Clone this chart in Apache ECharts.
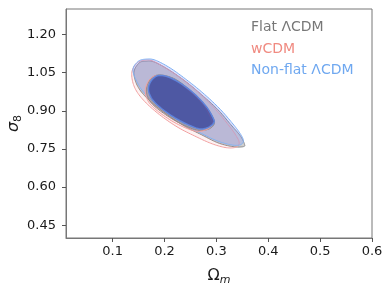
<!DOCTYPE html>
<html><head><meta charset="utf-8">
<script src="https://cdn.jsdelivr.net/npm/echarts@6/dist/echarts.min.js"></script>
<style>html,body{margin:0;padding:0;background:#fff}#c{width:390px;height:290px}</style>
</head><body><div id="c"></div>
<script>
// Tick labels
var xTicks = [0.1, 0.2, 0.3, 0.4, 0.5, 0.6];
var yTicks = [0.45, 0.60, 0.75, 0.90, 1.05, 1.20];
var modelNames = ['Flat ΛCDM', 'wCDM', 'Non-flat ΛCDM'];

// Contours: [Omega_m, sigma_8]
var flatOuter = [[0.141,1.052],[0.151,1.088],[0.164,1.095],[0.180,1.092],[0.209,1.060],[0.242,1.013],[0.272,0.962],[0.303,0.904],[0.328,0.845],[0.346,0.802],[0.354,0.770],[0.352,0.759],[0.332,0.759],[0.303,0.774],[0.271,0.806],[0.234,0.845],[0.195,0.900],[0.164,0.954],[0.147,1.001]];
var wOuter = [[0.137,1.052],[0.147,1.088],[0.162,1.099],[0.178,1.095],[0.207,1.062],[0.240,1.015],[0.271,0.962],[0.299,0.904],[0.323,0.845],[0.338,0.802],[0.344,0.774],[0.338,0.757],[0.319,0.755],[0.292,0.770],[0.261,0.798],[0.224,0.837],[0.187,0.890],[0.157,0.947],[0.141,0.998]];
var nfOuter = [[0.139,1.060],[0.149,1.094],[0.164,1.103],[0.182,1.099],[0.211,1.068],[0.243,1.021],[0.274,0.970],[0.305,0.911],[0.330,0.853],[0.346,0.810],[0.352,0.782],[0.346,0.766],[0.328,0.766],[0.301,0.782],[0.271,0.811],[0.234,0.851],[0.197,0.904],[0.166,0.958],[0.149,1.005]];
var flatInner = [[0.165,0.986],[0.174,1.027],[0.191,1.041],[0.220,1.025],[0.251,0.978],[0.276,0.927],[0.292,0.880],[0.296,0.849],[0.284,0.827],[0.261,0.825],[0.224,0.857],[0.189,0.904],[0.170,0.943]];
var wInner = [[0.163,0.984],[0.172,1.025],[0.189,1.039],[0.218,1.023],[0.249,0.976],[0.274,0.925],[0.288,0.878],[0.292,0.847],[0.280,0.825],[0.257,0.821],[0.220,0.853],[0.186,0.900],[0.168,0.939]];
var nfInner = [[0.169,0.990],[0.178,1.027],[0.194,1.039],[0.220,1.021],[0.252,0.976],[0.278,0.923],[0.292,0.878],[0.295,0.853],[0.282,0.833],[0.263,0.831],[0.227,0.864],[0.194,0.909],[0.175,0.949]];

var contours = [
  {d: flatOuter, fill: 'rgba(128,128,128,0.38)', stroke: '#8a8a8a', w: 1},
  {d: wOuter,    fill: 'rgba(240,128,128,0.10)', stroke: '#f2a0a0', w: 1},
  {d: nfOuter,   fill: 'rgba(115,140,255,0.26)', stroke: '#7fb0f2', w: 1},
  {d: flatInner, fill: 'rgba(128,128,128,0.40)', stroke: '#8a8a8a', w: 1},
  {d: wInner,    fill: 'rgba(240,128,128,0.10)', stroke: '#f2a0a0', w: 1},
  {d: nfInner,   fill: 'rgba(40,59,160,0.70)',   stroke: '#5f84dc', w: 1.5}
];

// closed Catmull-Rom curve through the projected contour points (drawing only)
function closedSpline(pts, steps) {
  var out = [], n = pts.length;
  for (var i = 0; i < n; i++) {
    var p0 = pts[(i - 1 + n) % n], p1 = pts[i], p2 = pts[(i + 1) % n], p3 = pts[(i + 2) % n];
    for (var s = 0; s < steps; s++) {
      var t = s / steps, t2 = t * t, t3 = t2 * t;
      out.push([0, 1].map(function (k) {
        return 0.5 * ((2 * p1[k]) + (-p0[k] + p2[k]) * t +
          (2 * p0[k] - 5 * p1[k] + 4 * p2[k] - p3[k]) * t2 +
          (-p0[k] + 3 * p1[k] - 3 * p2[k] + p3[k]) * t3);
      }));
    }
  }
  return out;
}

var FONT = 'DejaVu Sans';
var series = contours.map(function (c) {
  return {
    type: 'custom',
    data: c.d,
    silent: true,
    renderItem: function (params, api) {
      if (params.dataIndex !== 0) return null;
      var pts = c.d.map(function (p) { return api.coord(p); });
      return {
        type: 'polygon',
        shape: {points: closedSpline(pts, 10)},
        style: {fill: c.fill, stroke: c.stroke, lineWidth: c.w}
      };
    }
  };
});

var chart = echarts.init(document.getElementById('c'), null, {renderer: 'canvas'});
chart.setOption({
  animation: false,
  grid: {left: 66, right: 18, top: 9, bottom: 52, containLabel: false, outerBoundsMode: 'none',
    show: true, borderColor: '#777', borderWidth: 1, backgroundColor: 'transparent'},
  xAxis: {
    type: 'value', min: 0.01, max: 0.6,
    axisLine: {show: true, lineStyle: {color: '#777', width: 1}},
    axisTick: {show: true, customValues: xTicks, length: 4, lineStyle: {color: '#555'}},
    axisLabel: {customValues: xTicks, margin: 7, color: '#1a1a1a', fontSize: 13, fontFamily: FONT,
      formatter: function (v) { return v.toFixed(1); }},
    splitLine: {show: false},
    name: '{a|Ω}{b|m}', nameLocation: 'middle', nameGap: 28, nameMoveOverlap: false,
    nameTextStyle: {rich: {
      a: {fontSize: 16, fontFamily: FONT, color: '#1a1a1a', lineHeight: 20},
      b: {fontSize: 11, fontFamily: FONT, fontStyle: 'italic', color: '#1a1a1a', verticalAlign: 'bottom', lineHeight: 14}
    }}
  },
  yAxis: {
    type: 'value', min: 0.40, max: 1.30,
    axisLine: {show: true, lineStyle: {color: '#777', width: 1}},
    axisTick: {show: true, customValues: yTicks, length: 4, lineStyle: {color: '#555'}},
    axisLabel: {customValues: yTicks, margin: 10, color: '#1a1a1a', fontSize: 13, fontFamily: FONT,
      formatter: function (v) { return v.toFixed(2); }},
    splitLine: {show: false},
    name: '{a|σ}{b|8}', nameLocation: 'middle', nameGap: 42, nameRotate: 90, nameMoveOverlap: false,
    nameTextStyle: {rich: {
      a: {fontSize: 16, fontFamily: FONT, fontStyle: 'italic', color: '#1a1a1a', lineHeight: 20},
      b: {fontSize: 11, fontFamily: FONT, color: '#1a1a1a', verticalAlign: 'bottom', lineHeight: 14}
    }}
  },
  graphic: [
    {type: 'text', x: 251, y: 27, style: {text: modelNames[0], fill: '#777777', font: '14px "DejaVu Sans"', verticalAlign: 'middle'}},
    {type: 'text', x: 251, y: 49, style: {text: modelNames[1], fill: '#f08a80', font: '14px "DejaVu Sans"', verticalAlign: 'middle'}},
    {type: 'text', x: 251, y: 70, style: {text: modelNames[2], fill: '#6fa8f0', font: '14px "DejaVu Sans"', verticalAlign: 'middle'}}
  ],
  series: series
});
</script></body></html>
